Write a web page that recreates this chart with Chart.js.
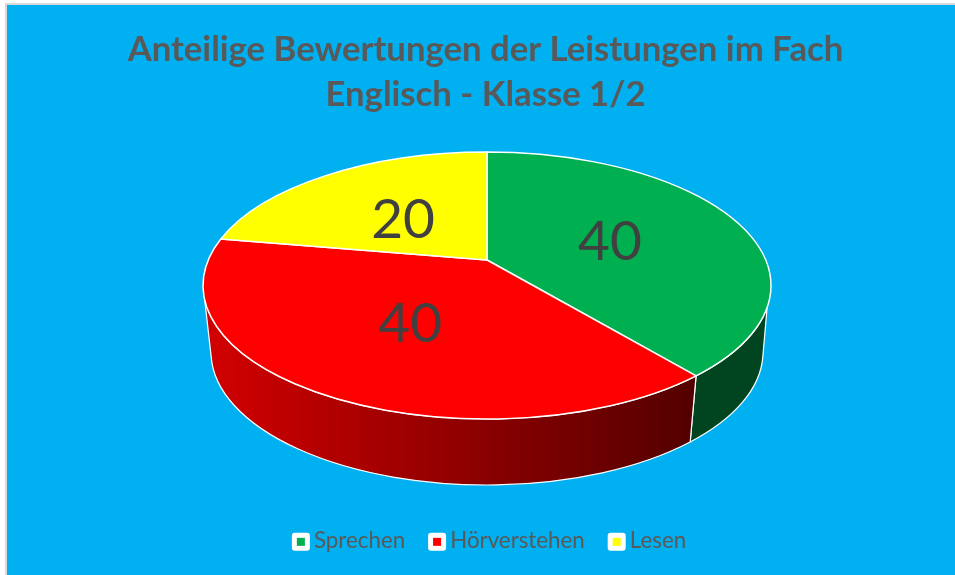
<!DOCTYPE html>
<html>
<head>
<meta charset="utf-8">
<title>Anteilige Bewertungen</title>
<script src="https://cdn.jsdelivr.net/npm/chart.js@4/dist/chart.umd.min.js"></script>
<style>
    html, body { margin: 0; padding: 0; background: #fff; }
    /* grey frame only on the top and left, like the pasted slide */
    #frame { position: absolute; left: 5px; top: 3px; right: 0; bottom: 0;
             border-left: 2px solid #d9d9d9; border-top: 2px solid #d9d9d9; background: #00B0F0; }
    #pie { position: absolute; left: 0; top: 0; }
</style>
</head>
<body>
<div id="frame"></div>
<canvas id="pie" width="955" height="575"></canvas>
<script>
const categories = ['Sprechen', 'Hörverstehen', 'Lesen'];
const values = [40, 40, 20];
const sliceColors = ['#00B050', '#FF0000', '#FFFF00'];
const titleLines = ['Anteilige Bewertungen der Leistungen im Fach', 'Englisch - Klasse 1/2'];

// look of the tilted disc
const top3d = { x: 487, y: 285.5, rx: 284, ry: 133.5 };
const bottom3d = { x: 487, y: 352, rx: 276, ry: 133 };
const apex = { x: 487, y: 260 };
const wallFrom = 99.5, wallTo = 263.7;           // visible part of the rim, degrees from 12 o'clock
const wallBottomFrom = 92, wallBottomTo = 268;
const wallShades = [[0.39, 0.39], [0.82, 0.33], [0.5, 0.5]];
const labelOffsets = [[6, -5], [-10, 2], [-11, -2]];
const labelPull = 0.45;
const legendShift = 4;

const rad = d => d * Math.PI / 180;
// perspective squeeze: true pie angle -> angle on the drawn ellipse
const warp = d => d - 7.19 * Math.sin(rad(d)) + 7.55 * Math.sin(rad(2 * d));
const onEllipse = (e, d) => ({ x: e.x + e.rx * Math.sin(rad(d)), y: e.y - e.ry * Math.cos(rad(d)) });
const ellipseArc = (ctx, e, from, to, ccw) =>
    ctx.ellipse(e.x, e.y, e.rx, e.ry, 0, rad(from - 90), rad(to - 90), ccw);

function shade(hex, f) {
    const n = parseInt(hex.slice(1), 16);
    return `rgb(${(n >> 16 & 255) * f},${(n >> 8 & 255) * f},${(n & 255) * f})`;
}

const disc3d = {
    id: 'disc3d',
    afterLayout(chart) {
        // legend row sits a little right of the title in the original
        chart.legend.left += legendShift;
        chart.legend.right += legendShift;
        chart.legend.legendHitBoxes.forEach(box => { box.left += legendShift; });
    },
    beforeDatasetDraw(chart, args) {
        const ctx = chart.ctx;
        const arcs = args.meta.data.map(el => ({
            from: warp((el.startAngle + Math.PI / 2) * 180 / Math.PI),
            to: warp((el.endAngle + Math.PI / 2) * 180 / Math.PI)
        }));
        ctx.save();
        ctx.strokeStyle = '#fff';
        ctx.lineJoin = 'round';

        // rim first
        arcs.forEach((a, i) => {
            const s = Math.max(a.from, wallFrom), e = Math.min(a.to, wallTo);
            if (s >= e) return;
            const bs = s === wallFrom ? wallBottomFrom : s;
            const be = e === wallTo ? wallBottomTo : e;
            const grad = ctx.createLinearGradient(bottom3d.x - bottom3d.rx, 0, 690, 0);
            grad.addColorStop(0, shade(sliceColors[i], wallShades[i][0]));
            grad.addColorStop(1, shade(sliceColors[i], wallShades[i][1]));
            ctx.beginPath();
            ellipseArc(ctx, top3d, s, e, false);
            ellipseArc(ctx, bottom3d, be, bs, true);
            ctx.closePath();
            ctx.fillStyle = grad;
            ctx.fill();
            ctx.lineWidth = 1.2;
            ctx.stroke();
        });

        // top face
        arcs.forEach((a, i) => {
            ctx.beginPath();
            ctx.moveTo(apex.x, apex.y);
            ellipseArc(ctx, top3d, a.from, a.to, false);
            ctx.closePath();
            ctx.fillStyle = sliceColors[i];
            ctx.fill();
            ctx.lineWidth = 1.5;
            ctx.stroke();
        });

        // value labels
        ctx.fillStyle = '#404040';
        ctx.font = '55px Lato';
        ctx.textAlign = 'center';
        ctx.textBaseline = 'middle';
        arcs.forEach((a, i) => {
            const p = onEllipse(top3d, (a.from + a.to) / 2);
            ctx.fillText(String(values[i]),
                apex.x + (p.x - apex.x) * labelPull + labelOffsets[i][0],
                apex.y + (p.y - apex.y) * labelPull + labelOffsets[i][1]);
        });
        ctx.restore();
        return false;
    },
    afterDraw(chart) {
        // legend swatches: white rounded box with a small colour square
        const ctx = chart.ctx;
        chart.legend.legendHitBoxes.forEach((box, i) => {
            const cx = box.left + 8, cy = box.top + box.height / 2 + 1;
            ctx.fillStyle = '#fff';
            ctx.beginPath();
            ctx.roundRect(cx - 9, cy - 9, 18, 18, 3);
            ctx.fill();
            ctx.fillStyle = sliceColors[i];
            ctx.fillRect(cx - 4, cy - 4, 8, 8);
        });
    }
};

new Chart(document.getElementById('pie').getContext('2d'), {
    type: 'pie',
    data: {
        labels: categories,
        datasets: [{ data: values, backgroundColor: sliceColors }]
    },
    plugins: [disc3d],
    options: {
        responsive: false,
        animation: false,
        layout: { padding: { left: 16, top: 27, bottom: 13 } },
        plugins: {
            tooltip: { enabled: false },
            title: {
                display: true,
                text: titleLines,
                color: '#595959',
                font: { family: 'Lato', size: 34.7, weight: 'bold', lineHeight: 1.297 },
                padding: 0
            },
            legend: {
                position: 'bottom',
                labels: {
                    color: '#595959',
                    font: { family: 'Lato', size: 22.3 },
                    boxWidth: 10,
                    boxHeight: 10,
                    padding: 24,
                    generateLabels: chart => categories.map((text, i) => ({
                        text, index: i, fontColor: '#595959',
                        fillStyle: 'rgba(0,0,0,0)', strokeStyle: 'rgba(0,0,0,0)', lineWidth: 0
                    }))
                }
            }
        }
    }
});
</script>
</body>
</html>
